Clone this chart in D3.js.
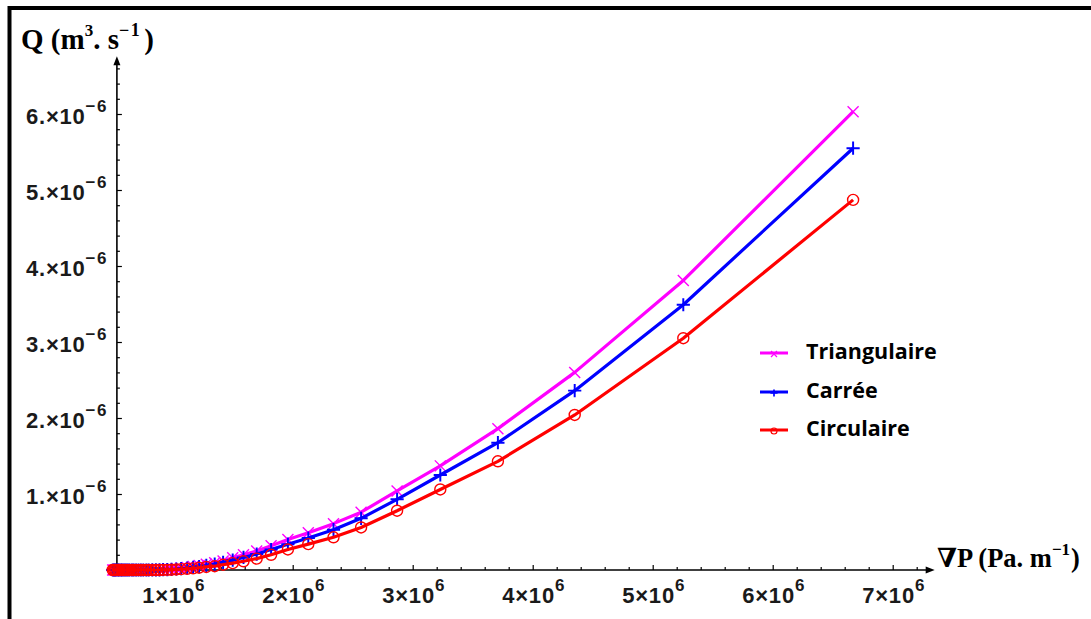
<!DOCTYPE html>
<html><head><meta charset="utf-8">
<script src="https://cdn.jsdelivr.net/npm/d3@7"></script>
<style>html,body{margin:0;padding:0;background:#fff;overflow:hidden}</style>
</head><body>
<svg id="chart" width="1091" height="619"></svg>
<script>
// ---- data (pressure gradient in 1e6 Pa/m, flow rate in 1e-6 m^3/s) ----
const gradP = [6.67, 5.255, 4.35, 3.71, 3.23, 2.87, 2.57, 2.34, 2.13, 1.96, 1.82, 1.70, 1.59, 1.50, 1.42, 1.35,
  1.28, 1.22, 1.17, 1.12, 1.07, 1.03, 0.99, 0.955, 0.92, 0.89, 0.86, 0.83, 0.80, 0.78, 0.755, 0.735, 0.715,
  0.695, 0.675, 0.66, 0.64, 0.625, 0.61, 0.595, 0.58, 0.57, 0.555, 0.545, 0.53, 0.52, 0.51, 0.50];
const qTriangulaire = [6.03, 3.81, 2.60, 1.86, 1.37, 1.04, 0.76, 0.61, 0.49, 0.40, 0.32, 0.25, 0.20, 0.16, 0.12, 0.095,
  0.075, 0.058, 0.045, 0.034, 0.025, 0.018, 0.013, 0.009, 0.006, 0.004, 0.003, 0.002, 0.001, 0, 0, 0, 0,
  0, 0, 0, 0, 0, 0, 0, 0, 0, 0, 0, 0, 0, 0, 0];
const qCarree = [5.55, 3.49, 2.36, 1.675, 1.25, 0.93, 0.68, 0.53, 0.42, 0.34, 0.27, 0.21, 0.165, 0.13, 0.10, 0.078,
  0.06, 0.046, 0.035, 0.026, 0.019, 0.013, 0.009, 0.006, 0.004, 0.0025, 0.0015, 0.001, 0, 0, 0, 0, 0,
  0, 0, 0, 0, 0, 0, 0, 0, 0, 0, 0, 0, 0, 0, 0];
const qCirculaire = [4.87, 3.05, 2.04, 1.43, 1.06, 0.78, 0.56, 0.43, 0.34, 0.27, 0.20, 0.15, 0.115, 0.09, 0.07, 0.05,
  0.04, 0.03, 0.022, 0.016, 0.011, 0.007, 0.004, 0.002, 0.001, 0, 0, 0, 0, 0, 0, 0, 0,
  0, 0, 0, 0, 0, 0, 0, 0, 0, 0, 0, 0, 0, 0, 0];
const seriesNames = ["Triangulaire", "Carrée", "Circulaire"];
const seriesColors = ["#ff00ff", "#0000ff", "#ff0000"];
const seriesMarkers = ["cross", "plus", "circle"];
const xTickValues = [1, 2, 3, 4, 5, 6, 7];
const xTickLabels = ["1×10", "2×10", "3×10", "4×10", "5×10", "6×10", "7×10"];
const xTickExp = "6";
const yTickValues = [1, 2, 3, 4, 5, 6];
const yTickLabels = ["1.×10", "2.×10", "3.×10", "4.×10", "5.×10", "6.×10"];
const yTickExp = "−6";

// ---- layout ----
const svg = d3.select("#chart");
const x = d3.scaleLinear().domain([0, 7]).range([52.7, 892.7]);
const y = d3.scaleLinear().domain([0, 6]).range([570, 114]);
const xOrigin = 0.535, xEnd = 7.35, yEnd = 6.76;
const ax = x(xOrigin), ay = y(0);

// frame
svg.append("path").attr("d", "M9.5,619 V8 H1091").attr("fill", "none").attr("stroke", "#000").attr("stroke-width", 4);

// minor / major ticks
const xMinor = d3.range(0.6, 7.25, 0.2).filter(v => Math.abs(v - Math.round(v)) > 1e-6);
const yMinor = d3.range(0.2, 6.65, 0.2).filter(v => Math.abs(v - Math.round(v)) > 1e-6);
const gx = svg.append("g").attr("transform", `translate(0,${ay})`);
gx.append("g").call(d3.axisBottom(x).tickValues(xMinor).tickSize(-3).tickFormat(""));
gx.append("g").call(d3.axisBottom(x).tickValues(xTickValues).tickSize(-5).tickFormat(""));
const gy = svg.append("g").attr("transform", `translate(${ax},0)`);
gy.append("g").call(d3.axisLeft(y).tickValues(yMinor).tickSize(-3).tickFormat(""));
gy.append("g").call(d3.axisLeft(y).tickValues(yTickValues).tickSize(-5).tickFormat(""));
svg.selectAll(".domain").remove();
svg.selectAll(".tick line").attr("stroke", "#000").attr("stroke-width", 1.2);

// axis lines + arrows
svg.append("line").attr("x1", ax).attr("x2", x(xEnd) - 4).attr("y1", ay).attr("y2", ay).attr("stroke", "#000").attr("stroke-width", 1.6);
svg.append("line").attr("x1", ax).attr("x2", ax).attr("y1", ay).attr("y2", y(yEnd) + 4).attr("stroke", "#000").attr("stroke-width", 1.6);
svg.append("path").attr("d", `M${x(xEnd)},${ay} l-9,-3.5 l0,7 z`).attr("fill", "#000");
svg.append("path").attr("d", `M${ax},${y(yEnd)} l-3.5,9 l7,0 z`).attr("fill", "#000");

// tick labels
const labFont = "'Liberation Sans', Arial, sans-serif";
xTickValues.forEach((v, i) => {
  const t = svg.append("text").attr("x", x(v) + 1).attr("y", 603).attr("text-anchor", "middle")
    .attr("font-family", labFont).attr("font-weight", "bold").attr("font-size", 22).attr("letter-spacing", 0.8).attr("fill", "#1a1a1a");
  t.append("tspan").text(xTickLabels[i]);
  t.append("tspan").attr("dy", -12).attr("font-size", 17).text(xTickExp);
});
yTickValues.forEach((v, i) => {
  const t = svg.append("text").attr("x", 108).attr("y", y(v) + 10).attr("text-anchor", "end")
    .attr("font-family", labFont).attr("font-weight", "bold").attr("font-size", 22).attr("letter-spacing", 0.8).attr("fill", "#1a1a1a");
  t.append("tspan").text(yTickLabels[i]);
  t.append("tspan").attr("dy", -12).attr("font-size", 17).attr("letter-spacing", 1.5).text(yTickExp);
});

// axis titles
const serif = "'Liberation Serif', 'DejaVu Serif', serif";
const qt = svg.append("text").attr("x", 21).attr("y", 49).attr("font-family", serif).attr("font-weight", "bold").attr("font-size", 29).attr("fill", "#000");
qt.append("tspan").text("Q (m");
qt.append("tspan").attr("dy", -13).attr("font-size", 17).text("3");
qt.append("tspan").attr("dy", 13).text(". s");
qt.append("tspan").attr("dy", -13).attr("font-size", 18).attr("letter-spacing", 1.5).text("−1");
qt.append("tspan").attr("dy", 13).attr("dx", 3).text(")");
const pt = svg.append("text").attr("x", 937).attr("y", 567).attr("font-family", serif).attr("font-weight", "bold").attr("font-size", 26.5).attr("fill", "#000");
pt.append("tspan").text("∇P (Pa. m");
pt.append("tspan").attr("dy", -12).attr("font-size", 17).text("−1");
pt.append("tspan").attr("dy", 12).attr("dx", 1).text(")");

// series
const allQ = [qTriangulaire, qCarree, qCirculaire];
function drawMarker(g, type, cx, cy, s, color, sw) {
  if (type === "cross") {
    g.append("path").attr("d", `M${cx - s},${cy - s}L${cx + s},${cy + s}M${cx - s},${cy + s}L${cx + s},${cy - s}`)
      .attr("stroke", color).attr("stroke-width", sw).attr("fill", "none");
  } else if (type === "plus") {
    g.append("path").attr("d", `M${cx - s * 1.2},${cy}L${cx + s * 1.2},${cy}M${cx},${cy - s * 1.2}L${cx},${cy + s * 1.2}`)
      .attr("stroke", color).attr("stroke-width", sw * 1.4).attr("fill", "none");
  } else {
    g.append("circle").attr("cx", cx).attr("cy", cy).attr("r", s).attr("stroke", color).attr("stroke-width", sw).attr("fill", "none");
  }
}
const line = d3.line().x(d => x(d[0])).y(d => y(d[1]));
allQ.forEach((q, si) => {
  const pts = gradP.map((g, i) => [g, q[i]]);
  const g = svg.append("g");
  g.append("path").datum(pts).attr("d", line).attr("fill", "none").attr("stroke", seriesColors[si]).attr("stroke-width", 3.2).attr("stroke-linejoin", "round");
  pts.forEach(p => drawMarker(g, seriesMarkers[si], x(p[0]), y(p[1]), 5.5, seriesColors[si], 1.4));
});

// legend
const legY = [353, 392, 430];
seriesNames.forEach((n, i) => {
  svg.append("line").attr("x1", 760).attr("x2", 788).attr("y1", legY[i]).attr("y2", legY[i]).attr("stroke", seriesColors[i]).attr("stroke-width", 3);
  drawMarker(svg, seriesMarkers[i], 774, legY[i] + 1, 3, seriesColors[i], 1.2);
  svg.append("text").attr("x", 806).attr("y", legY[i] + 6).attr("font-family", "'Open Sans', Lato, sans-serif").attr("font-weight", "bold")
    .attr("font-size", 21.5).attr("fill", "#000").text(n);
});
</script>
</body></html>
